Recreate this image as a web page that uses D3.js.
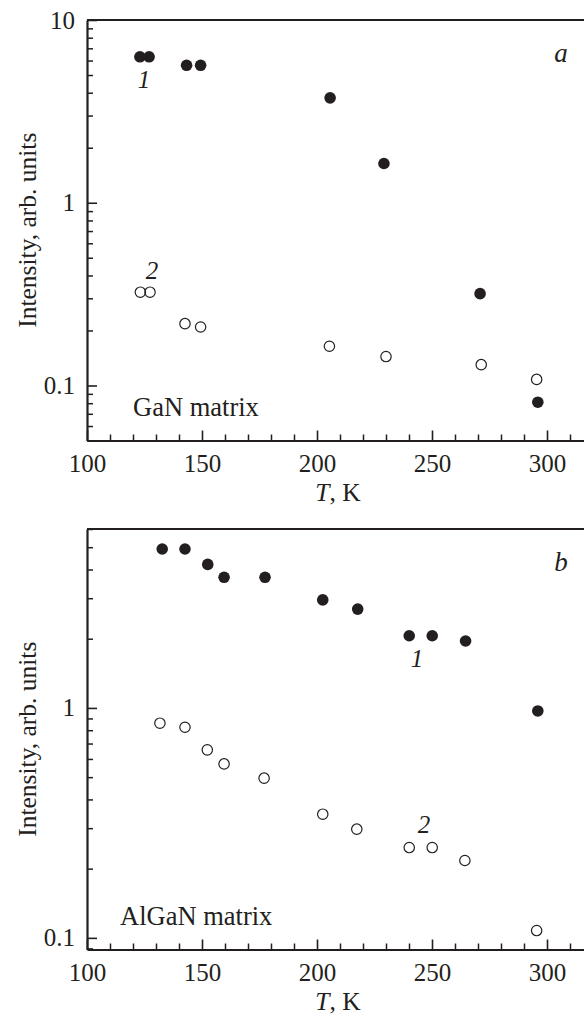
<!DOCTYPE html>
<html>
<head>
<meta charset="utf-8">
<script src="https://cdn.jsdelivr.net/npm/d3@7"></script>
<style>
    body { margin: 0; background: #fff; }
    svg { display: block; }
    text { font-family: "Liberation Serif", "Times New Roman", serif; fill: #231f20; }
    .axis path, .axis line { stroke: #231f20; }
    .axis text { font-size: 25px; font-family: "Liberation Serif", serif; fill: #231f20; }
</style>
</head>
<body>
<div id="chart"></div>
<script>
// panel a: GaN matrix
let tempA1 = [123, 127, 143.3, 149.4, 205.7, 229.1, 270.9, 296];
let intA1 = [6.29, 6.29, 5.65, 5.65, 3.75, 1.64, 0.318, 0.081];
let tempA2 = [123.2, 127.4, 142.6, 149.4, 205.4, 230, 271.4, 295.5];
let intA2 = [0.324, 0.324, 0.218, 0.209, 0.164, 0.144, 0.130, 0.108];

// panel b: AlGaN matrix
let tempB1 = [132.7, 142.6, 152.5, 159.6, 177.4, 202.5, 217.7, 240.1, 250.1, 264.6, 296];
let intB1 = [4.91, 4.91, 4.21, 3.70, 3.70, 2.95, 2.69, 2.06, 2.06, 1.955, 0.97];
let tempB2 = [131.7, 142.6, 152.3, 159.6, 177, 202.5, 217.3, 240.1, 250.1, 264.3, 295.5];
let intB2 = [0.858, 0.824, 0.657, 0.571, 0.495, 0.345, 0.297, 0.247, 0.247, 0.217, 0.1076];

let xMajorTicks = [100, 150, 200, 250, 300];
let yMajorA = [0.1, 1, 10];
let yMajorB = [0.1, 1];
let yTickLabels = {0.1: "0.1", 1: "1", 10: "10"};

const ink = "#231f20";

let svg = d3.select("#chart").append("svg")
    .attr("width", 584)
    .attr("height", 1015);

function minorLogTicks(domain) {
    let out = [];
    for (let e = -3; e <= 2; e++) {
        for (let m = 2; m <= 9; m++) {
            let v = m * Math.pow(10, e);
            if (v >= domain[0] && v <= domain[1]) out.push(v);
        }
    }
    return out;
}

function drawPanel(opts) {
    let left = 87, top = opts.top, bottom = opts.bottom;

    let x = d3.scaleLinear()
        .domain([100, 320])
        .range([left, 593]);

    let y = d3.scaleLog()
        .domain(opts.yDomain)
        .range([bottom, top]);

    let g = svg.append("g");

    // x minor ticks every 10 K
    g.append("g")
        .attr("class", "axis")
        .attr("transform", `translate(0,${bottom})`)
        .call(d3.axisBottom(x).tickValues(d3.range(110, 320, 10).filter(d => d % 50 !== 0))
            .tickSize(-6).tickFormat(""))
        .call(a => a.select(".domain").remove())
        .selectAll("line").attr("stroke-width", 1.5);

    // x major ticks
    g.append("g")
        .attr("class", "axis")
        .attr("transform", `translate(0,${bottom})`)
        .call(d3.axisBottom(x).tickValues(xMajorTicks).tickSizeInner(-10).tickSizeOuter(0)
            .tickPadding(14).tickFormat(d3.format("d")))
        .call(a => a.select(".domain").attr("stroke-width", 2.2))
        .selectAll("line").attr("stroke-width", 1.6);

    // y minor ticks
    g.append("g")
        .attr("class", "axis")
        .attr("transform", `translate(${left},0)`)
        .call(d3.axisLeft(y).tickValues(minorLogTicks(opts.yDomain)).tickSize(-6).tickFormat(""))
        .call(a => a.select(".domain").remove())
        .selectAll("line").attr("stroke-width", 1.5);

    // y major ticks
    g.append("g")
        .attr("class", "axis")
        .attr("transform", `translate(${left},0)`)
        .call(d3.axisLeft(y).tickValues(opts.yMajor).tickSizeInner(-10).tickSizeOuter(0)
            .tickPadding(12).tickFormat(d => yTickLabels[d]))
        .call(a => a.select(".domain").attr("stroke-width", 2.2))
        .selectAll("line").attr("stroke-width", 1.6);

    // top frame line
    g.append("line")
        .attr("x1", left).attr("x2", 600)
        .attr("y1", top).attr("y2", top)
        .attr("stroke", ink)
        .attr("stroke-width", 2.2);

    // filled series 1
    g.selectAll(".dot1")
        .data(opts.t1.map((d, i) => [d, opts.v1[i]]))
        .enter()
        .append("circle")
        .attr("class", "dot1")
        .attr("cx", d => x(d[0]))
        .attr("cy", d => y(d[1]))
        .attr("r", 5.8)
        .attr("fill", ink);

    // open series 2
    g.selectAll(".dot2")
        .data(opts.t2.map((d, i) => [d, opts.v2[i]]))
        .enter()
        .append("circle")
        .attr("class", "dot2")
        .attr("cx", d => x(d[0]))
        .attr("cy", d => y(d[1]))
        .attr("r", 5.2)
        .attr("fill", "none")
        .attr("stroke", ink)
        .attr("stroke-width", 1.2);

    // axis titles
    g.append("text")
        .attr("transform", `translate(36,${(top + bottom) / 2})rotate(-90)`)
        .attr("text-anchor", "middle")
        .style("font-size", "25.5px")
        .text("Intensity, arb. units");

    let tl = g.append("text")
        .attr("x", 338)
        .attr("y", opts.tLabelY)
        .attr("text-anchor", "middle")
        .style("font-size", "25.5px");
    tl.append("tspan").style("font-style", "italic").text("T");
    tl.append("tspan").text(", K");

    // annotations
    g.append("text")
        .attr("x", opts.panelLabel[1]).attr("y", opts.panelLabel[2])
        .attr("text-anchor", "middle")
        .style("font-size", "27px").style("font-style", "italic")
        .text(opts.panelLabel[0]);

    g.append("text")
        .attr("x", opts.matrixLabel[1]).attr("y", opts.matrixLabel[2])
        .style("font-size", "26.5px")
        .text(opts.matrixLabel[0]);

    opts.curveLabels.forEach(c => {
        g.append("text")
            .attr("x", c[1]).attr("y", c[2])
            .attr("text-anchor", "middle")
            .style("font-size", "25px").style("font-style", "italic")
            .text(c[0]);
    });
}

drawPanel({
    top: 20, bottom: 440.5,
    yDomain: [0.05, 10],
    yMajor: yMajorA,
    t1: tempA1, v1: intA1, t2: tempA2, v2: intA2,
    tLabelY: 501,
    panelLabel: ["a", 561, 62],
    matrixLabel: ["GaN matrix", 133, 416],
    curveLabels: [["1", 144, 88], ["2", 152, 279]]
});

drawPanel({
    top: 529, bottom: 949.5,
    yDomain: [0.089, 6],
    yMajor: yMajorB,
    t1: tempB1, v1: intB1, t2: tempB2, v2: intB2,
    tLabelY: 1010,
    panelLabel: ["b", 561, 571],
    matrixLabel: ["AlGaN matrix", 120, 925],
    curveLabels: [["1", 417, 667], ["2", 424, 833]]
});
</script>
</body>
</html>
